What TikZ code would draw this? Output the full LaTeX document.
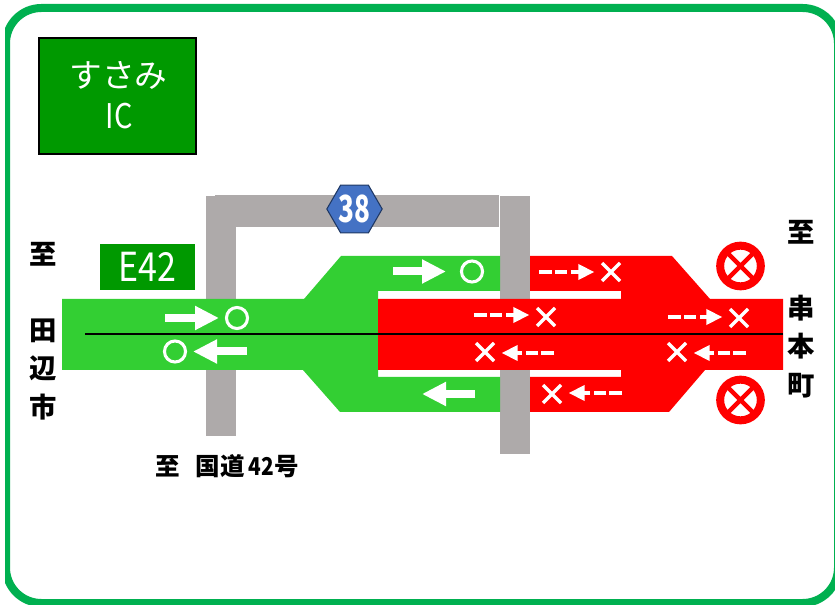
\documentclass[tikz,border=0pt]{standalone}
\usepackage{fontspec}
\setmainfont{Noto Sans CJK JP}
\newfontfamily\halffont[FakeStretch=0.85]{Noto Sans CJK JP}
\newfontfamily\routefont[FakeStretch=0.7]{Noto Sans CJK JP}
\usetikzlibrary{positioning,shapes.geometric,shapes.misc,arrows.meta}
\definecolor{framegreen}{HTML}{00B050}
\definecolor{signgreen}{HTML}{009900}
\definecolor{roadgreen}{HTML}{33CF33}
\definecolor{roadgrey}{HTML}{AEAAAA}
\definecolor{routeblue}{HTML}{4472C4}
\definecolor{routeline}{HTML}{1F3864}

\begin{document}
\begin{tikzpicture}[
  x=0.75pt,y=-0.75pt,
  signbox/.style={fill=signgreen,text=white,align=center,inner sep=0pt},
  signtext/.style={text=white,inner sep=0pt},
  place/.style={font=\bfseries\fontsize{20.5}{21}\selectfont,inner sep=0pt},
  okmark/.style={draw=white,circle,line width=2.3pt,minimum size=15.8pt,inner sep=0pt},
  ngmark/.style={draw=white,cross out,line width=2.5pt,minimum size=13.5pt,inner sep=0pt,outer sep=0pt},
  goarrow/.style={draw=white,line width=6pt,shorten >=13.5pt,-{Triangle[length=18pt,width=17pt]}},
  closedarrow/.style={draw=white,line width=2.8pt,shorten >=12.5pt,
    dash pattern=on 9.75pt off 2.25pt on 9pt off 3pt on 30pt,-{Triangle[length=12pt,width=11.25pt]}},
  nosign/.style={draw=red,circle,fill=white,line width=6pt,minimum size=30.5pt,inner sep=0pt},
  nocross/.style={draw=red,cross out,line width=3.3pt,minimum size=20pt,inner sep=0pt,outer sep=0pt}
]
\useasboundingbox (0,0) rectangle (835,605);
\begin{scope}
\clip (5,0) rectangle (835,605);
\draw[framegreen,line width=6pt,rounded corners=26.5pt] (6,8) rectangle (838,603);
\end{scope}

% roads
\fill[roadgrey] (205.5,196) rectangle (236,436);
\fill[roadgrey] (215,195) rectangle (499,227);
\fill[roadgrey] (499.5,196) rectangle (530,454);
\fill[roadgreen] (62,299) -- (304,299) -- (341,256) -- (500,256) -- (500,291) -- (378,291)
  -- (378,377) -- (500,377) -- (500,412) -- (340,412) -- (303,370) -- (62,370) -- cycle;
\fill[red] (530,256) -- (672,256) -- (710,299) -- (783,299) -- (783,370) -- (705,370)
  -- (669,412) -- (530,412) -- (530,377) -- (621,377) -- (621,370) -- (378,370)
  -- (378,299) -- (621,299) -- (621,291) -- (530,291) -- cycle;
\draw[line width=1.3pt] (85,334) -- (783,334);

% signs
\node[signbox,draw=black,line width=1.5pt,minimum width=118pt,minimum height=87.5pt] (ic) at (117.5,96) {};
\node[signtext,font=\fontsize{24.5}{25}\selectfont] (icname) at (118.5,75) {すさみ};
\node[signtext,font=\halffont\fontsize{25.5}{26}\selectfont] (ictype) at (119,116) {IC};
\node[signbox,minimum width=71pt,minimum height=35pt,font=\halffont\fontsize{30}{30}\selectfont] (e42) at (147.5,267) {E42};
\node[draw=routeline,fill=routeblue,text=white,regular polygon,regular polygon sides=6,minimum size=41.5pt,
  inner sep=0pt,line width=0.8pt,font=\routefont\bfseries\fontsize{28}{28}\selectfont] (r38) at (354.5,209) {38};

% open lanes
\node[okmark] (okA) at (237,318) {};
\node[okmark] (okB) at (175,351.5) {};
\node[okmark] (okC) at (472,271.5) {};
\coordinate (okAt) at (165,318);
\coordinate (okBt) at (247,351.5);
\coordinate (okCt) at (393,271.5);
\coordinate (okDt) at (475,394);
\coordinate (okDh) at (422,394);
\draw[goarrow] (okAt) -- (okAt -| okA);
\draw[goarrow] (okBt) -- (okBt -| okB);
\draw[goarrow,shorten >=19.5pt] (okCt) -- (okCt -| okC);
\draw[goarrow,shorten >=0pt] (okDt) -- (okDh);

% closed lanes
\node[ngmark] (ngA) at (611,272) {};
\node[ngmark] (ngB) at (546,317) {};
\node[ngmark] (ngC) at (739,318) {};
\node[ngmark] (ngD) at (485,352) {};
\node[ngmark] (ngE) at (677,352) {};
\node[ngmark] (ngF) at (552,394) {};
\coordinate (ngAt) at (539,272);
\coordinate (ngBt) at (474,315);
\coordinate (ngCt) at (668,317);
\coordinate (ngDt) at (554,353);
\coordinate (ngEt) at (746,353);
\coordinate (ngFt) at (622,393);
\foreach \lane in {A,B,C,D,E,F}
  \draw[closedarrow] (ng\lane t) -- (ng\lane t -| ng\lane);

% no entry
\foreach \sign/\y in {P/266,Q/400}{
  \node[nosign] (no\sign) at (740.5,\y) {};
  \node[nocross] (cross\sign) at (no\sign) {};
}

% place names
\node[place] (toW) at (43,254.5) {至};
\node[place] (ta) at (43,331) {田};
\node[place] (be) at (43,368) {辺};
\node[place] (shi) at (43,407) {市};
\node[place] (toE) at (801.5,232.5) {至};
\node[place] (ku) at (801.5,308) {串};
\node[place] (mo) at (801.5,346.5) {本};
\node[place] (cho) at (801.5,386) {町};
\node[place,font=\bfseries\fontsize{18.4}{19}\selectfont] (toS) at (227,466)
  {至\hspace{0.65em}国道\hspace{0.15em}{\halffont\bfseries 42}号};
\end{tikzpicture}
\end{document}
